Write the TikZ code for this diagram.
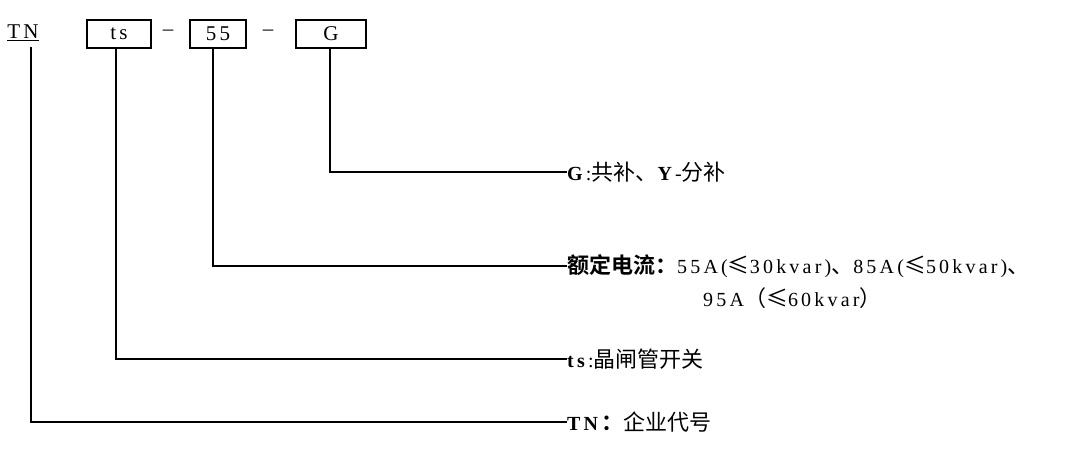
\documentclass[tikz,border=0pt]{standalone}
\usepackage{fontspec}
\setmainfont{Liberation Serif}[LetterSpace=16]
\newfontfamily\cjk{Noto Sans CJK SC}[Scale=1.1]
\newfontfamily\cjkb{Noto Sans CJK SC Bold}[Scale=1.1]
\begin{document}
\begin{tikzpicture}[x=1pt,y=-1pt,
  bx/.style={draw,line width=1.6pt,minimum height=28pt,inner sep=0pt,font=\fontsize{21}{24}\selectfont},
  ln/.style={line width=1.4pt},
  lab/.style={anchor=west,inner sep=0pt,font=\fontsize{20}{26}\selectfont}]
\useasboundingbox (0,0) rectangle (1069,467);
\node[inner sep=0pt,font=\fontsize{21}{24}\selectfont] (tn) at (23,33) {\underline{TN}};
\node[bx,minimum width=64pt] (ts) at (119,34) {ts};
\node[bx,minimum width=56pt] (f5) at (218,34) {55};
\node[bx,minimum width=70pt] (g) at (331,34) {G};
\node[font=\fontsize{21}{24}\selectfont] (d1) at (168,33) {–};
\node[font=\fontsize{21}{24}\selectfont] (d2) at (268,33) {–};
\node[lab] (lg) at (567,172) {\textbf{G}:{\cjk 共补、}\textbf{Y}-{\cjk 分补}};
\node[lab] (l5) at (567,266) {{\cjkb 额定电流：}55A({\cjk ≤}30kvar){\cjk 、}85A({\cjk ≤}50kvar){\cjk 、}};
\node[lab] (l5b) at (703,298) {95A{\cjk （≤}60kvar{\cjk ）}};
\node[lab] (lt) at (567,359) {\textbf{ts}:{\cjk 晶闸管开关}};
\node[lab] (ln) at (567,422) {\textbf{TN}{\cjkb ：}{\cjk 企业代号}};
\draw[ln] (31,47) |- (ln.west);
\draw[ln] (116,48) |- (lt.west);
\draw[ln] (213,48) |- (l5.west);
\draw[ln] (330,48) |- (lg.west);
\end{tikzpicture}
\end{document}
